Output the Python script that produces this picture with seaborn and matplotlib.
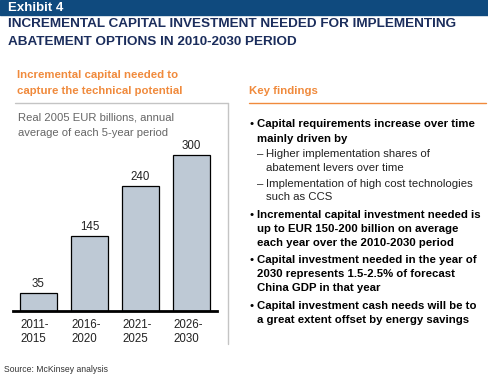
import matplotlib
matplotlib.use("Agg")
import matplotlib.pyplot as plt
import seaborn as sns
import pandas as pd
from matplotlib.lines import Line2D
from matplotlib.patches import Rectangle
from matplotlib.transforms import ScaledTranslation

periods = ["2011-\n2015", "2016-\n2020", "2021-\n2025", "2026-\n2030"]
capital = [35, 145, 240, 300]

title_lines = [
    "INCREMENTAL CAPITAL INVESTMENT NEEDED FOR IMPLEMENTING",
    "ABATEMENT OPTIONS IN 2010-2030 PERIOD",
]
findings = [
    ("bullet", "Capital requirements increase over time"),
    ("cont", "mainly driven by"),
    ("sub", "Higher implementation shares of"),
    ("subcont", "abatement levers over time"),
    ("sub", "Implementation of high cost technologies"),
    ("subcont", "such as CCS"),
    ("bullet", "Incremental capital investment needed is"),
    ("cont", "up to EUR 150-200 billion on average"),
    ("cont", "each year over the 2010-2030 period"),
    ("bullet", "Capital investment needed in the year of"),
    ("cont", "2030 represents 1.5-2.5% of forecast"),
    ("cont", "China GDP in that year"),
    ("bullet", "Capital investment cash needs will be to"),
    ("cont", "a great extent offset by energy savings"),
]
finding_y = [124, 139, 154, 168, 184, 197, 215, 229, 243, 260, 274, 288, 306, 320]

W, H = 488, 376
NAVY = "#0f4a7e"
TITLE = "#1b2d5c"
ORANGE = "#f08a3c"
GREY_TXT = "#666666"

sns.set_style("white")
plt.rcParams["font.family"] = ["Liberation Sans", "DejaVu Sans"]

fig = plt.figure(figsize=(W / 100, H / 100), dpi=100)


def fx(x):
    return x / W


def fy(y):
    return 1 - y / H


# header bar and titles
fig.add_artist(Rectangle((0, fy(15)), 1, 15 / H, transform=fig.transFigure,
                         color=NAVY, zorder=0))
fig.text(fx(8), fy(8), "Exhibit 4", color="white", fontsize=9.5,
         fontweight="bold", va="center")
for i, line in enumerate(title_lines):
    fig.text(fx(8), fy(24 + 18 * i), line, color=TITLE, fontsize=9.7,
             fontweight="bold", va="center")

# left panel headings
fig.text(fx(17), fy(75), "Incremental capital needed to", color=ORANGE,
         fontsize=8.2, fontweight="bold", va="center")
fig.text(fx(17), fy(91), "capture the technical potential", color=ORANGE,
         fontsize=8.2, fontweight="bold", va="center")
fig.add_artist(Line2D([fx(15), fx(228)], [fy(103), fy(103)], color="#c4c4c4", lw=1))
fig.add_artist(Line2D([fx(228), fx(228)], [fy(103), fy(344)], color="#c4c4c4", lw=1))
fig.text(fx(18), fy(117), "Real 2005 EUR billions, annual", color=GREY_TXT,
         fontsize=8.1, va="center")
fig.text(fx(18), fy(133), "average of each 5-year period", color=GREY_TXT,
         fontsize=8.1, va="center")

# bar chart
ax = fig.add_axes([fx(13), (H - 311) / H, 204 / W, 171.6 / H])
df = pd.DataFrame({"period": periods, "capital": capital})
sns.barplot(data=df, x="period", y="capital", color="#bec9d5", edgecolor="black",
            linewidth=0.9, width=0.73, saturation=1, ax=ax)
ax.bar_label(ax.containers[0], padding=2, fontsize=8.3, color="#222222")
ax.set_xlim(-0.5, 3.5)
ax.set_ylim(0, 330)
ax.set_xlabel("")
ax.set_ylabel("")
ax.set_yticks([])
for side in ["top", "left", "right"]:
    ax.spines[side].set_visible(False)
ax.spines["bottom"].set_linewidth(2)
ax.spines["bottom"].set_color("black")
ax.tick_params(axis="x", length=0, pad=6, labelsize=8.3, labelcolor="#222222")
for lab in ax.get_xticklabels():
    lab.set_ha("left")
    lab.set_multialignment("left")
    lab.set_transform(lab.get_transform() + ScaledTranslation(-0.18, 0, fig.dpi_scale_trans))

# right panel
fig.text(fx(249), fy(91), "Key findings", color=ORANGE, fontsize=8.2,
         fontweight="bold", va="center")
fig.add_artist(Line2D([fx(249), fx(486)], [fy(103), fy(103)], color=ORANGE, lw=1))
for (kind, txt), y in zip(findings, finding_y):
    if kind == "bullet":
        fig.text(fx(250), fy(y), "•", color="black", fontsize=8.2, va="center")
        fig.text(fx(257), fy(y), txt, color="black", fontsize=8.2,
                 fontweight="bold", va="center")
    elif kind == "cont":
        fig.text(fx(257), fy(y), txt, color="black", fontsize=8.2,
                 fontweight="bold", va="center")
    elif kind == "sub":
        fig.text(fx(257), fy(y), "–", color="#222222", fontsize=8.2, va="center")
        fig.text(fx(266), fy(y), txt, color="#222222", fontsize=8.2, va="center")
    else:
        fig.text(fx(266), fy(y), txt, color="#222222", fontsize=8.2, va="center")

fig.text(fx(4), fy(369), "Source: McKinsey analysis", color="#333333",
         fontsize=6.2, va="center")

fig.savefig("out.png", dpi=100)
